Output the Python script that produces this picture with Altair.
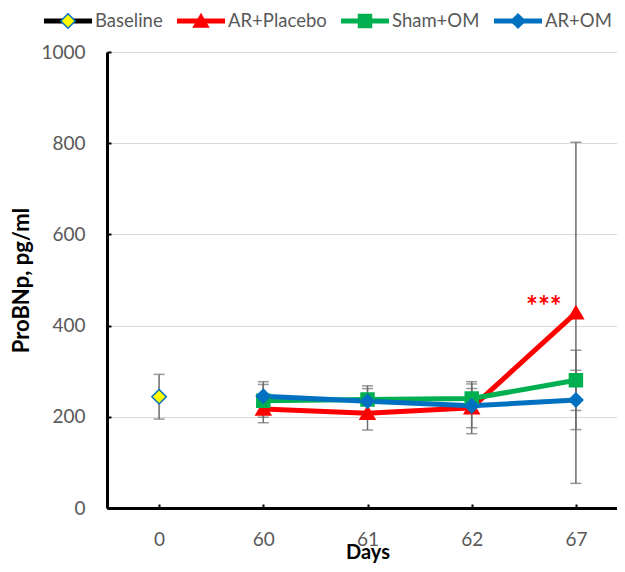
import altair as alt
import pandas as pd

# ---- data ----
days = ["0", "60", "61", "62", "67"]
series_names = ["Baseline", "AR+Placebo", "Sham+OM", "AR+OM"]
line_colors = ["#000000", "#FF0000", "#00B050", "#0070C0"]
marker_fills = ["#FFFF00", "#FF0000", "#00B050", "#0070C0"]
marker_strokes = ["#0070C0", "#FF0000", "#00B050", "#0070C0"]

# symbol paths in a unit box; the two zero-length subpaths give every symbol the same box
BOX = "M-1,-1L-1,-1M1,1L1,1"
marker_paths = [
    BOX + "M0,-0.3L0.3,0L0,0.3L-0.3,0Z",
    BOX + "M0,-0.28L0.31,0.25L-0.31,0.25Z",
    BOX + "M-0.27,-0.27L0.27,-0.27L0.27,0.27L-0.27,0.27Z",
    BOX + "M0,-0.29L0.29,0L0,0.29L-0.29,0Z",
]
legend_line_path = BOX + "M-0.97,-0.073L0.97,-0.073L0.97,0.073L-0.97,0.073Z"

baseline_days = ["0"]
baseline_mean = [244]
baseline_err = [49]

group_days = ["60", "61", "62", "67"]
placebo_mean = [217, 208, 220, 428]
placebo_err = [30, 37, 57, 374]
sham_mean = [235, 238, 240, 280]
sham_err = [36, 30, 22, 66]
om_mean = [245, 234, 224, 237]
om_err = [32, 28, 48, 65]

y_ticks = [0, 200, 400, 600, 800, 1000]

star_days = ["67"]
star_values = [421]
star_labels = ["***"]

rows = []


def add(name, ds, means, errs):
    for d, m, e in zip(ds, means, errs):
        rows.append({"series": name, "day": d, "mean": m, "lo": m - e, "hi": m + e})


add("Baseline", baseline_days, baseline_mean, baseline_err)
add("AR+Placebo", group_days, placebo_mean, placebo_err)
add("Sham+OM", group_days, sham_mean, sham_err)
add("AR+OM", group_days, om_mean, om_err)
df = pd.DataFrame(rows)
star_df = pd.DataFrame({"day": star_days, "value": star_values, "label": star_labels})

W, H = 510, 456
FONT = "Lato"
GRAY_TXT = "#595959"
ERR = "#6d6d6d"
SYM = 2304
LEG_X, LEG_Y = -64, -56

x_scale = alt.Scale(type="point", domain=days, padding=0.5, range=[0, 521])
y_scale = alt.Scale(domain=[0, 1000])

legend_common = dict(orient="none", legendX=LEG_X, legendY=LEG_Y, direction="horizontal",
                     title=None, symbolSize=SYM, symbolStrokeWidth=1.5, symbolOpacity=1,
                     labelFont=FONT, labelFontSize=18.5, labelColor=GRAY_TXT, labelOffset=2,
                     columnPadding=11, padding=0)
legend_lines_def = alt.Legend(**legend_common)
legend_marks_def = alt.Legend(labelOpacity=0, **legend_common)

lines = alt.Chart(df[df.series != "Baseline"]).mark_line(strokeWidth=5).encode(
    x=alt.X("day:N", scale=x_scale, axis=alt.Axis(
        orient="bottom", title="Days", labelAngle=0, labelFont=FONT, labelFontSize=19,
        labelColor=GRAY_TXT, labelPadding=22, ticks=False, tickSize=0,
        domainColor="black", domainWidth=3, grid=False, titleFont=FONT,
        titleFontSize=20, titleFontWeight="bold", titleColor="black", titlePadding=-7)),
    y=alt.Y("mean:Q", scale=y_scale, axis=alt.Axis(
        orient="left", values=y_ticks, format="d", title="ProBNp, pg/ml", grid=True,
        gridColor="#d9d9d9", gridWidth=1, domainColor="black", domainWidth=3,
        ticks=False, tickSize=0, labelFont=FONT, labelFontSize=19, labelColor=GRAY_TXT,
        labelPadding=22, titleFont=FONT, titleFontSize=22, titleFontWeight="bold",
        titleColor="black", titlePadding=7)),
    color=alt.Color("series:N", scale=alt.Scale(domain=series_names, range=line_colors),
                    legend=None),
)

err_rule = alt.Chart(df).mark_rule(color=ERR, strokeWidth=1.5).encode(
    x=alt.X("day:N", scale=x_scale, axis=alt.Axis(
        orient="top", offset=-H, labels=False, domain=False, ticks=True, tickSize=4,
        tickWidth=2, tickColor="black", grid=False, title=None)),
    y=alt.Y("lo:Q", scale=y_scale, axis=alt.Axis(
        orient="right", offset=-W, values=y_ticks, labels=False, domain=False, ticks=True,
        tickSize=4, tickWidth=2, tickColor="black", grid=False, title=None)),
    y2="hi:Q",
)
cap_lo = alt.Chart(df).mark_tick(color=ERR, orient="horizontal", size=11, thickness=1.5).encode(
    x=alt.X("day:N", scale=x_scale, axis=None),
    y=alt.Y("lo:Q", scale=y_scale, axis=None),
)
cap_hi = alt.Chart(df).mark_tick(color=ERR, orient="horizontal", size=11, thickness=1.5).encode(
    x=alt.X("day:N", scale=x_scale, axis=None),
    y=alt.Y("hi:Q", scale=y_scale, axis=None),
)

# legend-only layer: line swatches (no marks drawn, the filter keeps no rows)
legend_lines = alt.Chart(df).transform_filter("datum.mean < 0").mark_point(
    filled=True, opacity=1, size=SYM, strokeWidth=1.5).encode(
    x=alt.X("day:N", scale=x_scale, axis=None),
    y=alt.Y("mean:Q", scale=y_scale, axis=None),
    shape=alt.Shape("series:N", scale=alt.Scale(domain=series_names,
                                                range=[legend_line_path] * 4),
                    legend=legend_lines_def),
    fill=alt.Fill("series:N", scale=alt.Scale(domain=series_names, range=line_colors),
                  legend=legend_lines_def),
    stroke=alt.Stroke("series:N", scale=alt.Scale(domain=series_names, range=line_colors),
                      legend=legend_lines_def),
)

points = alt.Chart(df).mark_point(filled=True, opacity=1, size=SYM, strokeWidth=1.5).encode(
    x=alt.X("day:N", scale=x_scale, axis=None),
    y=alt.Y("mean:Q", scale=y_scale, axis=None),
    shape=alt.Shape("series:N", scale=alt.Scale(domain=series_names, range=marker_paths),
                    legend=legend_marks_def),
    fill=alt.Fill("series:N", scale=alt.Scale(domain=series_names, range=marker_fills),
                  legend=legend_marks_def),
    stroke=alt.Stroke("series:N", scale=alt.Scale(domain=series_names, range=marker_strokes),
                      legend=legend_marks_def),
)

stars = alt.Chart(star_df).mark_text(color="#FF0000", font=FONT, fontSize=28,
                                     fontWeight="bold", dx=-32, baseline="alphabetic").encode(
    x=alt.X("day:N", scale=x_scale, axis=None),
    y=alt.Y("value:Q", scale=y_scale, axis=None),
    text="label:N",
)

chart = alt.layer(lines, err_rule, cap_lo, cap_hi, legend_lines, points, stars).resolve_scale(
    shape="independent", fill="independent", stroke="independent"
).properties(
    width=W, height=H,
    autosize=alt.AutoSizeParams(type="none"),
    padding={"left": 99, "top": 44, "right": 0, "bottom": 56},
).configure_view(stroke=None).configure(font=FONT)

chart.save("out.html", embed_options={"renderer": "svg", "actions": False})
